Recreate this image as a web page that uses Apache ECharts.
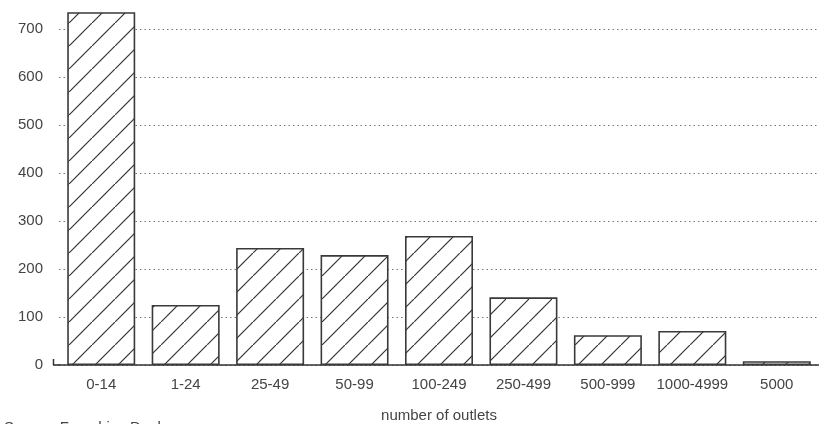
<!DOCTYPE html>
<html>
<head>
<meta charset="utf-8">
<script src="https://cdn.jsdelivr.net/npm/echarts@6/dist/echarts.min.js"></script>
<style>html,body{margin:0;padding:0;background:#fff}#c{width:819px;height:424px}</style>
</head>
<body>
<div id="c"></div>
<script>
const categories = ['0-14','1-24','25-49','50-99','100-249','250-499','500-999','1000-4999','5000'];
const values = [735, 125, 244, 229, 269, 141, 62, 71, 8];
const yTicks = [0, 100, 200, 300, 400, 500, 600, 700];

// hatch pattern
const pc = document.createElement('canvas');
pc.width = 23; pc.height = 23;
const g = pc.getContext('2d');
g.fillStyle = '#ffffff'; g.fillRect(0,0,23,23);
g.strokeStyle = '#333'; g.lineWidth = 1.2;
g.beginPath();
g.moveTo(-2,25); g.lineTo(25,-2);
g.stroke();

const FONT = 'Liberation Sans, Arial, sans-serif';
const chart = echarts.init(document.getElementById('c'), null, {renderer:'canvas'});
chart.setOption({
  animation:false,
  backgroundColor:'#fff',
  grid:{left:59, right:0, top:29, bottom:59, containLabel:false, outerBoundsMode:'none'},
  xAxis:{
    type:'category', data:categories,
    axisLine:{show:true, lineStyle:{color:'#333', width:1.6}},
    axisTick:{show:false},
    axisLabel:{color:'#444', fontFamily:FONT, fontSize:15, margin:12, interval:0},
    name:'number of outlets', nameLocation:'middle', nameGap:43,
    nameTextStyle:{color:'#444', fontFamily:FONT, fontSize:15}
  },
  yAxis:{
    type:'value', min:yTicks[0], max:yTicks[yTicks.length-1], interval:100,
    axisLine:{show:false}, axisTick:{show:false},
    axisLabel:{color:'#444', fontFamily:FONT, fontSize:15, margin:16},
    splitLine:{show:true, lineStyle:{color:'#777', type:[1.5,3], width:1}}
  },
  series:[{
    type:'bar', data:values, barWidth:68, clip:false,
    itemStyle:{color:{image:pc, repeat:'repeat'}, borderColor:'#3a3a3a', borderWidth:1.6}
  }],
  graphic:[
    {type:'line', shape:{x1:53, y1:365, x2:60, y2:365}, style:{stroke:'#333', lineWidth:1.6}},
    {type:'line', shape:{x1:53.5, y1:365, x2:53.5, y2:359}, style:{stroke:'#333', lineWidth:1.5}},
    {type:'text', left:4, top:420, style:{text:'Source: Franchise Deals', fill:'#444', font:'15px ' + FONT}}
  ]
});
</script>
</body>
</html>
